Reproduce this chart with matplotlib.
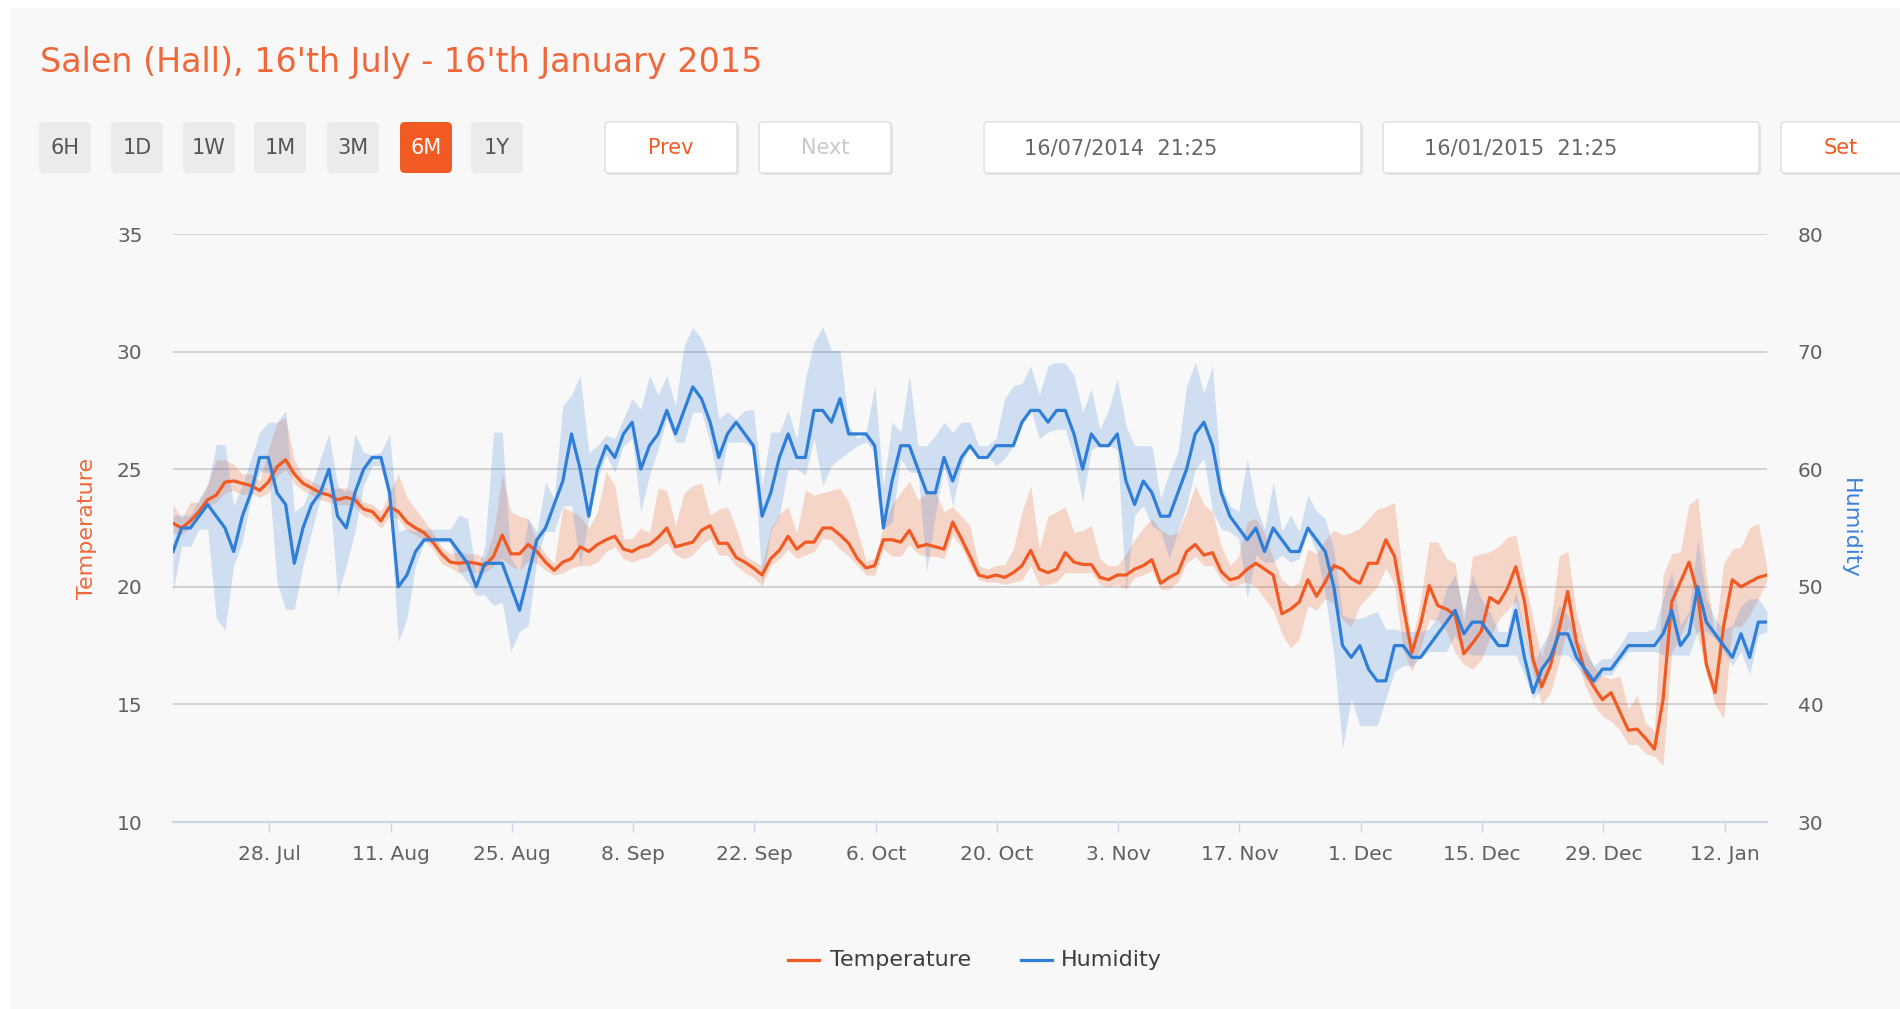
import numpy as np
import pandas as pd
import matplotlib
matplotlib.use("Agg")
import matplotlib.pyplot as plt
import matplotlib.dates as mdates
from matplotlib.patches import FancyBboxPatch, Rectangle
from matplotlib.lines import Line2D

# ---------------- data ----------------
start = "2014-07-16 21:25"

temp = [22.7, 22.5, 22.8, 23.2, 23.7, 23.9, 24.45, 24.5, 24.4, 24.3,
        24.1, 24.45, 25.1, 25.4, 24.8, 24.4, 24.2, 24.0, 23.9, 23.7,
        23.8, 23.7, 23.3, 23.2, 22.8, 23.4, 23.2, 22.75, 22.5, 22.3,
        21.9, 21.4, 21.05, 21.0, 21.05, 21.0, 20.9, 21.3, 22.2, 21.4,
        21.4, 21.8, 21.5, 21.05, 20.7, 21.05, 21.2, 21.7, 21.5, 21.8,
        22.0, 22.15, 21.6, 21.5, 21.7, 21.8, 22.1, 22.5, 21.7, 21.8,
        21.9, 22.4, 22.6, 21.85, 21.85, 21.25, 21.05, 20.8, 20.5, 21.2,
        21.55, 22.15, 21.6, 21.9, 21.9, 22.5, 22.5, 22.2, 21.85, 21.2,
        20.8, 20.9, 22.0, 22.0, 21.9, 22.4, 21.7, 21.8, 21.7, 21.6,
        22.75, 22.05, 21.3, 20.5, 20.4, 20.5, 20.4, 20.6, 20.9, 21.55,
        20.75, 20.6, 20.75, 21.45, 21.05, 20.95, 20.95, 20.4, 20.3, 20.5,
        20.5, 20.75, 20.9, 21.15, 20.15, 20.4, 20.6, 21.5, 21.8, 21.35,
        21.45, 20.65, 20.3, 20.4, 20.75, 21.0, 20.75, 20.5, 18.85, 19.05,
        19.35, 20.3, 19.6, 20.2, 20.9, 20.75, 20.35, 20.15, 21.0, 21.0,
        22.0, 21.3, 19.2, 17.2, 18.4, 20.05, 19.2, 19.05, 18.8, 17.15,
        17.6, 18.1, 19.55, 19.3, 19.9, 20.85, 19.4, 16.9, 15.75, 16.65,
        18.2, 19.8, 17.65, 16.4, 15.75, 15.2, 15.5, 14.7, 13.9, 13.95,
        13.55, 13.1, 15.2, 19.35, 20.2, 21.05, 19.7, 16.7, 15.5, 18.35,
        20.3, 20.0, 20.2, 20.4, 20.5]

temp_hi = [23.5, 22.9, 23.6, 23.6, 24.4, 25.4, 25.4, 25.2, 24.8, 24.8,
           24.5, 25.8, 27.0, 27.2, 25.4, 24.7, 24.5, 24.3, 24.2, 24.2,
           24.2, 24.0, 23.6, 23.5, 23.2, 24.0, 24.8, 23.8, 23.3, 22.8,
           22.3, 21.7, 21.4, 21.5, 21.4, 21.4, 21.2, 22.3, 24.8, 23.2,
           23.0, 22.9, 21.9, 21.4, 21.0, 23.4, 23.2, 23.0, 22.5, 23.2,
           24.9, 24.3, 22.05, 22.05, 22.5, 22.3, 24.2, 24.1, 22.6, 24.0,
           24.3, 24.4, 23.05, 23.3, 23.4, 22.5, 21.35, 21.1, 20.9, 22.5,
           23.1, 23.4, 22.3, 24.1, 23.9, 24.0, 24.1, 24.2, 23.6, 22.4,
           21.1, 21.2, 22.6, 23.5, 24.0, 24.5, 23.7, 24.0, 24.0, 23.2,
           23.4, 23.0, 22.6, 20.9, 20.75, 20.9, 20.95, 21.6, 23.2, 24.3,
           21.6, 23.0, 23.2, 23.4, 22.3, 22.4, 22.6, 21.2, 20.9, 20.9,
           21.4, 22.0, 22.5, 22.9, 22.4, 22.2, 22.3, 23.2, 24.3, 23.5,
           23.2, 21.7, 20.9, 21.3, 22.8, 22.9, 22.3, 21.2, 20.3, 20.0,
           20.2, 21.6, 21.4, 22.0, 22.4, 22.2, 22.3, 22.5, 22.9, 23.3,
           23.4, 23.6, 20.3, 17.6, 19.4, 21.9, 21.9, 21.2, 21.0, 18.5,
           21.3, 21.4, 21.5, 21.7, 22.1, 22.2, 20.4, 18.6, 17.0, 18.4,
           21.3, 21.5, 18.9, 17.5, 16.6, 16.2, 16.1, 16.2, 14.8, 15.4,
           14.2, 13.9, 20.5, 21.4, 21.5, 23.5, 23.8, 20.4, 17.9, 21.0,
           21.6, 21.7, 22.5, 22.7, 20.8]

temp_lo = [22.3, 22.2, 22.5, 23.0, 23.4, 23.6, 24.0, 24.1, 23.9, 24.0,
           23.8, 24.0, 24.7, 25.0, 24.4, 24.1, 23.9, 23.7, 23.6, 23.5,
           23.5, 23.4, 23.0, 22.9, 22.5, 23.0, 22.9, 22.4, 22.2, 22.0,
           21.6, 21.0, 20.8, 20.6, 20.7, 20.6, 20.6, 20.9, 21.2, 20.9,
           20.7, 21.1, 21.0, 20.7, 20.5, 20.6, 20.8, 20.9, 20.9, 21.05,
           21.5, 21.7, 21.2, 21.05, 21.2, 21.3, 21.6, 21.9, 21.35, 21.2,
           21.35, 21.8, 22.05, 21.35, 21.35, 20.9, 20.6, 20.4, 20.05, 20.9,
           21.2, 21.6, 21.2, 21.35, 21.5, 22.05, 22.0, 21.6, 21.3, 20.9,
           20.5, 20.5, 21.6, 21.3, 21.3, 21.8, 21.4, 21.3, 21.3, 21.2,
           22.2, 21.7, 20.9, 20.3, 20.2, 20.2, 20.1, 20.2, 20.3, 20.9,
           20.05, 20.1, 20.2, 20.6, 20.6, 20.6, 20.6, 20.1, 20.0, 20.1,
           19.9, 20.4, 20.5, 20.7, 19.9, 19.9, 20.2, 21.0, 21.3, 20.9,
           20.9, 20.3, 20.0, 20.1, 20.2, 20.0, 19.5, 19.0, 18.0, 17.4,
           17.8, 19.2, 19.0, 19.5, 19.3, 18.6, 18.3, 19.2, 19.6, 20.0,
           20.8, 20.1, 17.3, 16.4, 17.4, 18.6, 18.6, 18.1, 17.2, 16.7,
           16.5, 16.9, 17.8, 18.6, 19.0, 19.4, 18.0, 16.3, 15.0, 15.5,
           16.8, 18.3, 17.0, 15.8, 15.0, 14.5, 14.3, 13.9, 13.3, 13.3,
           12.9, 12.8, 12.4, 17.2, 17.9, 18.8, 17.9, 16.3, 15.0, 14.4,
           18.3, 18.3, 18.8, 19.5, 20.3]

hum = [53, 55, 55, 56, 57, 56, 55, 53, 56, 58,
       61, 61, 58, 57, 52, 55, 57, 58, 60, 56,
       55, 58, 60, 61, 61, 58, 50, 51, 53, 54,
       54, 54, 54, 53, 52, 50, 52, 52, 52, 50,
       48, 51, 54, 55, 57, 59, 63, 60, 56, 60,
       62, 61, 63, 64, 60, 62, 63, 65, 63, 65,
       67, 66, 64, 61, 63, 64, 63, 62, 56, 58,
       61, 63, 61, 61, 65, 65, 64, 66, 63, 63,
       63, 62, 55, 59, 62, 62, 60, 58, 58, 61,
       59, 61, 62, 61, 61, 62, 62, 62, 64, 65,
       65, 64, 65, 65, 63, 60, 63, 62, 62, 63,
       59, 57, 59, 58, 56, 56, 58, 60, 63, 64,
       62, 58, 56, 55, 54, 55, 53, 55, 54, 53,
       53, 55, 54, 53, 50, 45, 44, 45, 43, 42,
       42, 45, 45, 44, 44, 45, 46, 47, 48, 46,
       47, 47, 46, 45, 45, 48, 44, 41, 43, 44,
       46, 46, 44, 43, 42, 43, 43, 44, 45, 45,
       45, 45, 46, 48, 45, 46, 50, 47, 46, 45,
       44, 46, 44, 47, 47]

hum_hi = [56.1, 56.1, 56.1, 57.5, 58.6, 62.1, 62.1, 56.9, 58.6, 60.9,
          63.15, 64.0, 64.0, 65.0, 56.4, 56.9, 58.6, 60.9, 63.0, 58.6,
          58.05, 63.0, 61.45, 61.2, 61.45, 63.0, 54.7, 54.9, 54.7, 54.9,
          54.9, 54.9, 54.9, 56.1, 55.8, 51.0, 53.5, 63.15, 63.15, 52.4,
          51.3, 55.8, 54.7, 58.9, 57.5, 65.4, 66.3, 68.0, 61.45, 62.0,
          62.9, 62.6, 64.3, 66.0, 65.1, 68.0, 66.3, 68.0, 65.4, 70.5,
          72.1, 71.1, 69.1, 64.3, 64.85, 64.3, 65.0, 65.1, 58.6, 63.15,
          63.15, 65.0, 62.6, 67.7, 70.8, 72.1, 70.1, 70.1, 63.7, 62.6,
          63.15, 67.1, 58.6, 64.0, 63.15, 68.0, 62.0, 62.0, 62.9, 64.0,
          63.15, 64.0, 64.0, 62.0, 62.0, 62.6, 66.0, 67.1, 67.3, 68.8,
          66.3, 68.8, 69.1, 69.0, 68.0, 64.85, 66.8, 63.4, 65.1, 67.7,
          63.7, 62.0, 62.0, 62.0, 57.5, 59.75, 61.45, 67.1, 69.1, 66.5,
          68.8, 58.6, 56.9, 56.4, 60.9, 56.9, 54.9, 58.9, 54.7, 56.1,
          54.7, 57.8, 56.4, 55.8, 53.2, 47.6, 47.3, 47.3, 47.6, 47.9,
          46.4, 46.4, 46.2, 46.2, 46.2, 46.4, 47.6, 49.8, 51.0, 47.9,
          51.0, 49.0, 47.9, 46.2, 46.2, 49.6, 46.2, 43.3, 45.0, 46.2,
          48.4, 47.6, 45.6, 44.5, 43.3, 43.9, 43.9, 45.0, 46.2, 46.2,
          46.2, 46.4, 49.0, 51.3, 46.7, 47.9, 54.1, 49.0, 47.3, 46.4,
          46.7, 48.4, 49.0, 49.0, 47.9]

hum_lo = [49.6, 53.5, 53.4, 54.9, 54.9, 47.3, 46.3, 51.8, 53.8, 57.5,
          59.75, 59.75, 50.4, 48.1, 48.1, 51.8, 54.7, 57.5, 58.6, 49.3,
          51.8, 54.7, 58.6, 60.3, 60.3, 56.9, 45.3, 47.3, 51.8, 53.8,
          53.8, 53.8, 53.8, 51.3, 50.4, 49.3, 49.3, 48.4, 48.7, 44.5,
          46.2, 46.7, 52.4, 54.7, 54.7, 56.9, 56.9, 51.8, 55.8, 59.2,
          61.2, 59.75, 62.0, 62.6, 56.4, 59.5, 61.7, 64.3, 62.3, 62.3,
          64.85, 64.85, 62.3, 58.6, 62.3, 62.3, 62.3, 61.7, 50.1, 54.7,
          56.1, 60.0, 60.0, 59.5, 62.6, 58.6, 60.3, 60.9, 61.45, 62.0,
          62.3, 61.45, 54.9, 55.5, 60.9, 59.75, 59.75, 51.3, 56.1, 60.3,
          56.9, 60.3, 62.0, 61.2, 61.2, 60.3, 60.9, 62.0, 63.7, 65.1,
          62.6, 63.15, 63.4, 63.4, 60.9, 57.2, 61.7, 62.0, 62.0, 61.7,
          49.6, 56.1, 56.9, 55.2, 54.7, 52.4, 54.7, 56.9, 60.0, 60.9,
          56.4, 54.9, 54.7, 54.1, 49.0, 52.7, 52.1, 52.1, 52.7, 52.1,
          52.4, 54.7, 53.0, 49.3, 44.2, 36.25, 40.5, 38.2, 38.2, 38.2,
          40.5, 42.8, 43.3, 43.3, 43.9, 44.5, 44.5, 44.5, 45.9, 44.5,
          44.2, 44.2, 44.2, 44.2, 44.2, 44.2, 42.5, 40.5, 41.35, 44.2,
          44.2, 44.2, 43.3, 42.2, 41.6, 42.5, 42.5, 43.6, 44.5, 44.5,
          44.5, 44.5, 44.2, 44.2, 44.2, 44.2, 46.2, 46.2, 45.6, 44.5,
          43.3, 44.5, 42.5, 45.9, 46.2]

tick_dates = ["2014-07-28", "2014-08-11", "2014-08-25", "2014-09-08", "2014-09-22",
              "2014-10-06", "2014-10-20", "2014-11-03", "2014-11-17", "2014-12-01",
              "2014-12-15", "2014-12-29", "2015-01-12"]
tick_labels = ["28. Jul", "11. Aug", "25. Aug", "8. Sep", "22. Sep", "6. Oct", "20. Oct",
               "3. Nov", "17. Nov", "1. Dec", "15. Dec", "29. Dec", "12. Jan"]
temp_ticks = [10, 15, 20, 25, 30, 35]
hum_ticks = [30, 40, 50, 60, 70, 80]

range_buttons = ["6H", "1D", "1W", "1M", "3M", "6M", "1Y"]
active_button = "6M"
title = "Salen (Hall), 16'th July - 16'th January 2015"
date_from = "16/07/2014  21:25"
date_to = "16/01/2015  21:25"

# ---------------- style ----------------
ORANGE = "#f15a22"
BLUE = "#2f7ed8"
TICK_C = "#606060"
W, H = 1900, 1009

plt.rcParams["font.family"] = ["DejaVu Sans"]
fig = plt.figure(figsize=(W / 100, H / 100), dpi=100, facecolor="#f8f8f8")

# pixel overlay for the page furniture
bg = fig.add_axes([0, 0, 1, 1])
bg.set_xlim(0, W)
bg.set_ylim(H, 0)
bg.axis("off")
bg.set_zorder(-5)
bg.add_patch(Rectangle((0, 0), W, 7, color="white", zorder=1))
bg.add_patch(Rectangle((0, 0), 10, H, color="white", zorder=1))

bg.text(40, 72, title, color="#f0673a", fontsize=24, ha="left", va="baseline")

btn_x = [39, 111, 183, 254, 327, 400, 471]
for lbl, bx in zip(range_buttons, btn_x):
    act = lbl == active_button
    bg.add_patch(FancyBboxPatch((bx, 122), 52, 51,
                                boxstyle="round,pad=0,rounding_size=5",
                                fc=ORANGE if act else "#ebebeb", ec="none", zorder=2))
    bg.text(bx + 26, 148, lbl, color="white" if act else "#555555",
            fontsize=15, ha="center", va="center", zorder=3)


def box(x0, x1, txt, color, ha="center", tx=None):
    bg.add_patch(FancyBboxPatch((x0 + 2, 124), x1 - x0, 51,
                                boxstyle="round,pad=0,rounding_size=3",
                                fc="#e4e4e4", ec="none", zorder=2))
    bg.add_patch(FancyBboxPatch((x0, 122), x1 - x0, 51,
                                boxstyle="round,pad=0,rounding_size=3",
                                fc="white", ec="#dddddd", lw=1, zorder=3))
    bg.text(tx if tx is not None else (x0 + x1) / 2, 148, txt, color=color,
            fontsize=15, ha=ha, va="center", zorder=4)


box(605, 737, "Prev", ORANGE)
box(759, 891, "Next", "#c8c8c8")
box(984, 1361, date_from, "#666666", ha="left", tx=1024)
box(1383, 1759, date_to, "#666666", ha="left", tx=1424)
box(1781, 1915, "Set", ORANGE, tx=1841)

# ---------------- chart ----------------
ax = fig.add_axes([173 / W, 1 - 822 / H, 1594 / W, 588 / H])
ax.patch.set_visible(False)
ax2 = ax.twinx()
ax.set_autoscale_on(False)

x = mdates.date2num(pd.date_range(start, periods=len(temp), freq="D").to_pydatetime())
x0 = mdates.date2num(pd.Timestamp(start).to_pydatetime())
x1 = mdates.date2num(pd.Timestamp("2015-01-16 21:25").to_pydatetime())
ax.set_xlim(x0, x1)
ax.set_ylim(10, 35)
ax2.set_ylim(30, 80)

ax.fill_between(x, temp_lo, temp_hi, color=ORANGE, alpha=0.22, lw=0, zorder=1)
ax.fill_between(x, hum_lo, hum_hi, color=BLUE, alpha=0.2, lw=0, zorder=1.1,
                transform=ax2.transData)
ax.plot(x, temp, color=ORANGE, lw=2.3, zorder=3, solid_joinstyle="round")
ax.plot(x, hum, color=BLUE, lw=2.3, zorder=3.1, solid_joinstyle="round",
        transform=ax2.transData)

ax.set_yticks(temp_ticks)
ax2.set_yticks(hum_ticks)
ax.yaxis.grid(True, color="#cfcfcf", lw=1.3, zorder=0)
ax.set_axisbelow(True)
ax.tick_params(axis="y", length=0, pad=22, labelsize=14.5, labelcolor=TICK_C)
ax2.tick_params(axis="y", length=0, pad=22, labelsize=14.5, labelcolor=TICK_C)

tx = mdates.date2num(pd.to_datetime(tick_dates).to_pydatetime())
ax.set_xticks(tx)
ax.set_xticklabels(tick_labels)
ax.tick_params(axis="x", direction="out", length=7.5, width=1, color="#ccd6eb",
               pad=9, labelsize=14.5, labelcolor=TICK_C)

for a in (ax, ax2):
    for s in a.spines.values():
        s.set_visible(False)
ax.spines["bottom"].set_visible(True)
ax.spines["bottom"].set_color("#ccd6eb")
ax.spines["bottom"].set_linewidth(1.6)
ax.spines["bottom"].set_zorder(4)

# axis titles
bg.text(87, 528, "Temperature", rotation=90, color="#f0673a", fontsize=16,
        ha="center", va="center")
bg.text(1850, 528, "Humidity", rotation=270, color="#3b82dc", fontsize=16,
        ha="center", va="center")

# legend
bg.add_line(Line2D([788, 819], [960, 960], color=ORANGE, lw=2.3))
bg.text(830, 960, "Temperature", color="#3d3d3d", fontsize=16, ha="left", va="center")
bg.add_line(Line2D([1021, 1052], [960, 960], color=BLUE, lw=2.3))
bg.text(1061, 960, "Humidity", color="#3d3d3d", fontsize=16, ha="left", va="center")

fig.savefig("out.png", dpi=100, facecolor=fig.get_facecolor())
